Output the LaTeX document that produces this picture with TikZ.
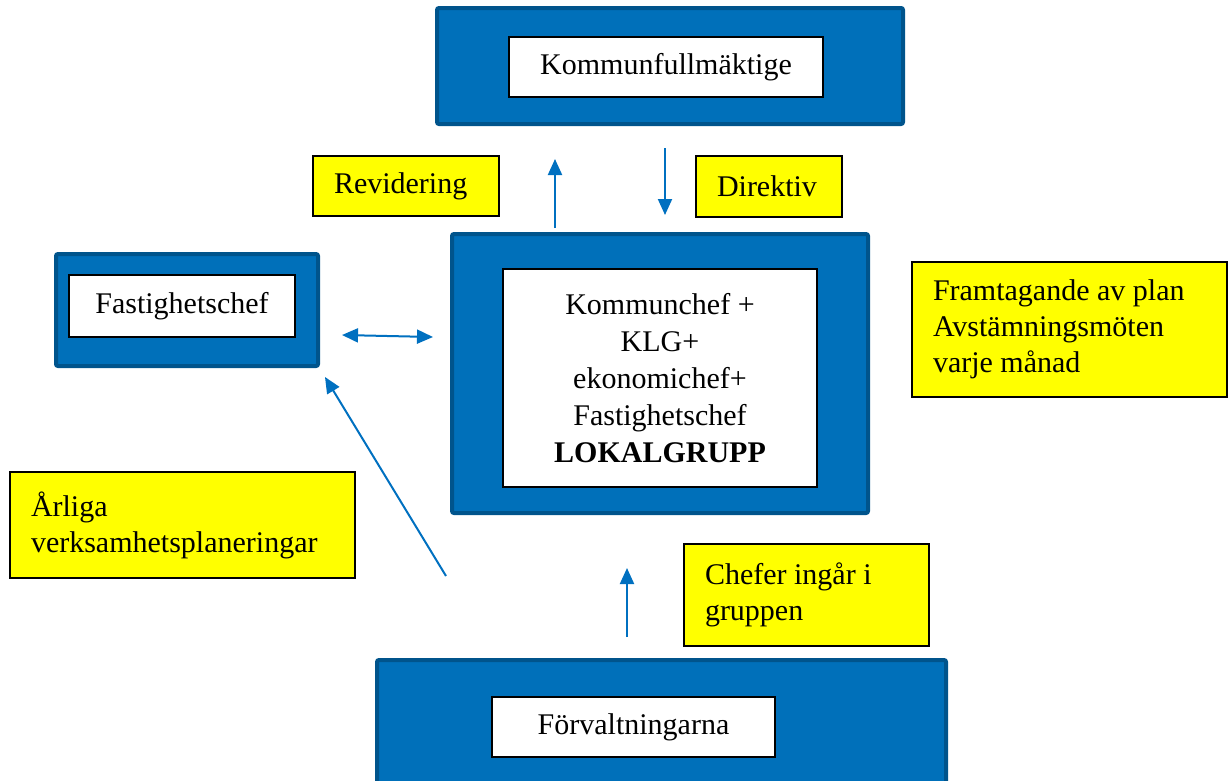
\documentclass[tikz,border=0pt]{standalone}
\usepackage{fontspec}
\setmainfont{Liberation Serif}
\usetikzlibrary{arrows.meta}
\definecolor{bfill}{RGB}{0,112,186}
\definecolor{bedge}{RGB}{0,84,140}
\definecolor{yel}{RGB}{255,255,0}
\definecolor{arrc}{RGB}{0,112,192}
\tikzset{
  bluebox/.style={draw=bedge, fill=bfill, line width=4pt, rounded corners=2pt, inner sep=0pt},
  whitebox/.style={draw=black, fill=white, line width=2pt, inner sep=0pt, align=center,
    font=\fontsize{30}{37}\selectfont},
  yelbox/.style={draw=black, fill=yel, line width=1.5pt, inner xsep=21pt, inner ysep=0pt, align=flush left,
    font=\fontsize{30}{36}\selectfont},
  arr/.style={draw=arrc, line width=2pt, -{Triangle[length=16pt,width=14pt]}},
  darr/.style={draw=arrc, line width=2pt, {Triangle[length=16pt,width=14pt]}-{Triangle[length=16pt,width=14pt]}},
}
\begin{document}
\begin{tikzpicture}[x=1pt,y=-1pt]
\path[use as bounding box] (0,0) rectangle (1232,780);
\clip (0,0) rectangle (1232,780);
% blue containers
\node[bluebox, minimum width=466, minimum height=116] (kfb) at (670,66) {};
\node[whitebox, minimum width=314, minimum height=60] (kf) at (666,67) {Kommunfullmäktige};
\node[bluebox, minimum width=416, minimum height=279] (lgb) at (660,373.5) {};
\node[whitebox, minimum width=314, minimum height=218] (lg) at (660,378)
  {Kommunchef +\\KLG+\\ekonomichef+\\Fastighetschef\\\textbf{LOKALGRUPP}};
\node[bluebox, minimum width=262, minimum height=112] (fcb) at (187,310) {};
\node[whitebox, minimum width=226, minimum height=62] (fc) at (182,306) {Fastighetschef};
\node[bluebox, minimum width=569, minimum height=140] (fvb) at (661.5,730) {};
\node[whitebox, minimum width=283, minimum height=60] (fv) at (633.5,727) {Förvaltningarna};
% yellow labels
\node[yelbox, text width=144, minimum height=60] (rev) at (406,186) {Revidering};
\node[yelbox, text width=104, minimum height=61] (dir) at (769,186.5) {Direktiv};
\node[yelbox, text width=273, minimum height=135] (fram) at (1069.5,329.5)
  {Framtagande av plan\\Avstämningsmöten\\varje månad};
\node[yelbox, text width=303, minimum height=106] (arl) at (182.5,525)
  {Årliga\\verksamhetsplaneringar};
\node[yelbox, text width=203, minimum height=102] (chef) at (806.5,595)
  {Chefer ingår i\\gruppen};
% arrow end points
\coordinate (u1s) at (555,228);
\coordinate (u1e) at (555,159);
\coordinate (d1s) at (665,148);
\coordinate (d1e) at (665,215);
\coordinate (hs) at (342,335);
\coordinate (he) at (433,337);
\coordinate (gs) at (446,576);
\coordinate (ge) at (325,377);
\coordinate (u2s) at (627,637);
\coordinate (u2e) at (627,568);
\draw[arr] (u1s) -- (u1e);
\draw[arr] (d1s) -- (d1e);
\draw[darr] (hs) -- (he);
\draw[arr] (gs) -- (ge);
\draw[arr] (u2s) -- (u2e);
\end{tikzpicture}
\end{document}
